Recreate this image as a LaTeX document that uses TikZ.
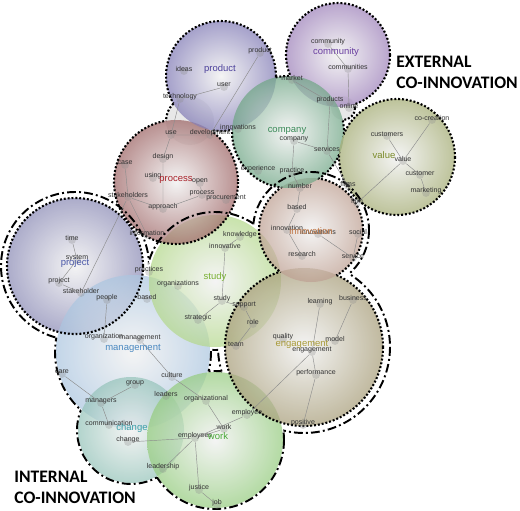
\documentclass[tikz,border=0pt]{standalone}
\usepackage{fontspec}
\setmainfont{Liberation Sans}
\newfontfamily\calib{Carlito}
\usepackage{xcolor}
\usepackage{tikz}
\usetikzlibrary{positioning}

\definecolor{prodfill}{RGB}{130,124,182}
\definecolor{commfill}{RGB}{158,130,186}
\definecolor{compfill}{RGB}{112,166,134}
\definecolor{valfill}{RGB}{164,172,116}
\definecolor{procfill}{RGB}{158,102,102}
\definecolor{innofill}{RGB}{190,160,146}
\definecolor{projfill}{RGB}{140,140,182}
\definecolor{studfill}{RGB}{180,216,140}
\definecolor{engfill}{RGB}{168,158,122}
\definecolor{mgtfill}{RGB}{172,198,224}
\definecolor{chgfill}{RGB}{150,196,186}
\definecolor{workfill}{RGB}{150,204,128}

% outline of a union of circles x/y/r
\newcommand{\hulloutline}[2]{%
  \foreach \ax/\ay/\ar in {#2}{%
    \begin{scope}[even odd rule]
      \foreach \bx/\by/\br in {#2}{%
        \pgfmathtruncatemacro\same{(\ax==\bx)&&(\ay==\by)&&(\ar==\br)}%
        \ifnum\same=0
          \clip (540,-20) rectangle (-20,530) (\bx,\by) circle (\br);
        \fi
      }
      \draw[#1] (\ax,\ay) circle (\ar);
    \end{scope}
  }%
}

\begin{document}
\begin{tikzpicture}[
      x=0.02cm, y=-0.02cm,
      clus/.style={
        inner color=black!6,
        fill opacity=0.72
      },
      kdot/.style={
        circle,
        fill=black!45,
        fill opacity=0.3,
        inner sep=0pt,
        minimum size=4.5pt
      },
      kw/.style={
        font=\fontsize{4}{4}\selectfont,
        text=black!80,
        text opacity=1,
        inner sep=0pt,
        yshift=1.2pt
      },
      lnk/.style={draw=black!45, line width=0.25pt},
      clab/.style={font=\fontsize{5.4}{5.4}\selectfont, inner sep=0pt},
      extline/.style={line width=1.2pt, dash pattern=on 1.1pt off 1.1pt},
      intline/.style={line width=1.1pt, dash pattern=on 5pt off 1.8pt on 1.1pt off 1.8pt},
      grp/.style={
        font=\calib\bfseries\fontsize{10}{11.8}\selectfont,
        align=left,
        anchor=west,
        inner sep=0pt
      }
      ]
        \useasboundingbox (0,0) rectangle (520,510);

        % grey bridges
        \fill[black!15, fill opacity=0.6] (190,121) circle (24);
        \fill[black!15, fill opacity=0.6] (343,108) circle (12);

        % clusters
        \shade[clus, outer color=projfill] (75,266) circle (68);
        \shade[clus, outer color=mgtfill] (133,352) circle (77);
        \shade[clus, outer color=chgfill] (131,430) circle (53);
        \shade[clus, outer color=workfill] (215,440) circle (68);
        \shade[clus, outer color=studfill] (215,281) circle (66);
        \shade[clus, outer color=engfill] (304,347) circle (79);
        \shade[clus, outer color=innofill] (311,230) circle (52);
        \shade[clus, outer color=procfill] (176,182) circle (62);
        \shade[clus, outer color=prodfill] (221,76) circle (55);
        \shade[clus, outer color=commfill] (338,55) circle (52);
        \shade[clus, outer color=compfill] (288,132) circle (56);
        \shade[clus, outer color=valfill] (397,157) circle (58);

        % group borders
        \hulloutline{extline}{221/76/55, 338/55/52, 288/132/56, 397/157/58, 176/182/62, 311/230/52, 304/347/79, 190/121/24, 343/108/12}
        \draw[extline] (75,266) circle (68);
        \hulloutline{intline}{75/266/74, 215/281/69, 311/230/58, 304/347/86, 133/352/78, 131/430/54, 215/440/69}

        % product
        \node[kdot, label={[kw]center:product}] (product) at (260,53) {};
        \node[kdot, label={[kw]center:ideas}] (ideas) at (184,71) {};
        \node[kdot, label={[kw]center:user}] (user) at (224,87) {};
        \node[kdot, label={[kw]center:technology}] (technology) at (180,99) {};
        % community
        \node[kdot, label={[kw]center:community}] (community) at (328,44) {};
        \node[kdot, label={[kw]center:communities}] (communities) at (348,69) {};
        \node[kdot, label={[kw]center:market}] (market) at (292,80) {};
        \node[kdot, label={[kw]center:products}] (products) at (330,102) {};
        \node[kdot, label={[kw]center:online}] (online) at (349,108) {};
        % company
        \node[kdot, label={[kw]center:innovations}] (innovations) at (238,129) {};
        \node[kdot, label={[kw]center:company}] (company) at (294,141) {};
        \node[kdot, label={[kw]center:services}] (services) at (327,151) {};
        \node[kdot, label={[kw]center:experience}] (experience) at (258,171) {};
        \node[kdot, label={[kw]center:practice}] (practice) at (292,173) {};
        % value
        \node[kdot, label={[kw]center:co-creation}] (cocreation) at (432,120) {};
        \node[kdot, label={[kw]center:customers}] (customers) at (387,136) {};
        \node[kdot, label={[kw]center:value}] (value) at (403,161) {};
        \node[kdot, label={[kw]center:customer}] (customer) at (420,175) {};
        \node[kdot, label={[kw]center:marketing}] (marketing) at (426,193) {};
        \node[kdot, label={[kw]center:firms}] (firms) at (348,186) {};
        \node[kdot, label={[kw]center:firm}] (firm) at (357,203) {};
        % process
        \node[kdot, label={[kw]center:use}] (use) at (171,135) {};
        \node[kdot, label={[kw]center:development}] (development) at (210,135) {};
        \node[kdot, label={[kw]center:design}] (design) at (163,159) {};
        \node[kdot, label={[kw]center:case}] (case) at (125,165) {};
        \node[kdot, label={[kw]center:using}] (using) at (153,178) {};
        \node[kdot, label={[kw]center:open}] (open) at (200,183) {};
        \node[kdot, label={[kw]center:process}] (process) at (202,195) {};
        \node[kdot, label={[kw]center:procurement}] (procurement) at (226,200) {};
        \node[kdot, label={[kw]center:stakeholders}] (stakeholders) at (128,197) {};
        \node[kdot, label={[kw]center:approach}] (approach) at (163,209) {};
        \node[kdot, label={[kw]center:information}] (information) at (147,235) {};
        % innovation
        \node[kdot, label={[kw]center:number}] (number) at (300,188) {};
        \node[kdot, label={[kw]center:based}] (based) at (297,209) {};
        \node[kdot, label={[kw]center:innovation}] (innovation) at (287,230) {};
        \node[kdot, label={[kw]center:innovations}] (innovations2) at (318,234) {};
        \node[kdot, label={[kw]center:social}] (social) at (358,234) {};
        \node[kdot, label={[kw]center:research}] (research) at (302,256) {};
        \node[kdot, label={[kw]center:service}] (service) at (353,258) {};
        % project
        \node[kdot, label={[kw]center:time}] (time) at (72,240) {};
        \node[kdot, label={[kw]center:system}] (system) at (77,260) {};
        \node[kdot, label={[kw]center:project}] (project) at (59,283) {};
        \node[kdot, label={[kw]center:stakeholder}] (stakeholder) at (81,293) {};
        \node[kdot, label={[kw]center:people}] (people) at (107,300) {};
        \node[kdot, label={[kw]center:practices}] (practices) at (149,272) {};
        \node[kdot, label={[kw]center:based}] (based2) at (147,299) {};
        % study
        \node[kdot, label={[kw]center:knowledge}] (knowledge) at (240,237) {};
        \node[kdot, label={[kw]center:innovative}] (innovative) at (225,248) {};
        \node[kdot, label={[kw]center:organizations}] (organizations) at (178,286) {};
        \node[kdot, label={[kw]center:study}] (study) at (222,301) {};
        \node[kdot, label={[kw]center:support}] (support) at (244,307) {};
        \node[kdot, label={[kw]center:strategic}] (strategic) at (198,320) {};
        \node[kdot, label={[kw]center:role}] (role) at (253,324) {};
        \node[kdot, label={[kw]center:team}] (team) at (236,346) {};
        % engagement
        \node[kdot, label={[kw]center:learning}] (learning) at (320,304) {};
        \node[kdot, label={[kw]center:business}] (business) at (353,300) {};
        \node[kdot, label={[kw]center:quality}] (quality) at (283,339) {};
        \node[kdot, label={[kw]center:model}] (model) at (335,341) {};
        \node[kdot, label={[kw]center:engagement}] (engagement) at (312,352) {};
        \node[kdot, label={[kw]center:performance}] (performance) at (316,375) {};
        \node[kdot, label={[kw]center:positive}] (positive) at (303,425) {};
        % management
        \node[kdot, label={[kw]center:organization}] (organization) at (104,339) {};
        \node[kdot, label={[kw]center:management}] (management) at (140,340) {};
        \node[kdot, label={[kw]center:care}] (care) at (62,374) {};
        \node[kdot, label={[kw]center:culture}] (culture) at (172,377) {};
        \node[kdot, label={[kw]center:group}] (group) at (135,385) {};
        \node[kdot, label={[kw]center:leaders}] (leaders) at (166,396) {};
        \node[kdot, label={[kw]center:organizational}] (organizational) at (206,401) {};
        \node[kdot, label={[kw]center:managers}] (managers) at (101,403) {};
        % change
        \node[kdot, label={[kw]center:communication}] (communication) at (109,425) {};
        \node[kdot, label={[kw]center:change}] (change) at (128,442) {};
        % work
        \node[kdot, label={[kw]center:employee}] (employee) at (247,415) {};
        \node[kdot, label={[kw]center:work}] (work) at (224,429) {};
        \node[kdot, label={[kw]center:employees}] (employees) at (195,438) {};
        \node[kdot, label={[kw]center:leadership}] (leadership) at (163,469) {};
        \node[kdot, label={[kw]center:justice}] (justice) at (199,490) {};
        \node[kdot, label={[kw]center:job}] (job) at (217,505) {};

        % links
        \draw[lnk] (product) -- (development) (technology) -- (user) (technology) -- (use);
        \draw[lnk] (community) -- (communities) (communities) -- (online) (market) -- (products);
        \draw[lnk] (products) -- (services) (company) -- (services) (company) -- (practice);
        \draw[lnk] (practice) -- (number) (services) -- (firms);
        \draw[lnk] (cocreation) -- (value) (value) -- (firm) (customers) -- (value);
        \draw[lnk] (value) -- (customer) (customer) -- (marketing);
        \draw[lnk] (use) -- (development) (use) -- (design) (design) -- (approach);
        \draw[lnk] (case) -- (stakeholders) (stakeholders) -- (approach) (approach) -- (process);
        \draw[lnk] (process) -- (procurement) (open) -- (process);
        \draw[lnk] (stakeholders) -- (information) (stakeholders) -- (stakeholder);
        \draw[lnk] (number) -- (based) (based) -- (innovation) (innovation) -- (research);
        \draw[lnk] (innovations2) -- (service) (social) -- (service);
        \draw[lnk] (time) -- (system) (system) -- (project) (project) -- (stakeholder);
        \draw[lnk] (people) -- (organization);
        \draw[lnk] (knowledge) -- (innovative) (innovative) -- (study) (study) -- (strategic);
        \draw[lnk] (study) -- (support) (support) -- (role) (role) -- (team);
        \draw[lnk] (learning) -- (engagement) (business) -- (model) (engagement) -- (performance);
        \draw[lnk] (performance) -- (positive) (engagement) -- (employee);
        \draw[lnk] (management) -- (culture) (culture) -- (organizational) (care) -- (managers);
        \draw[lnk] (group) -- (managers) (managers) -- (communication) (change) -- (employees);
        \draw[lnk] (organizational) -- (work) (work) -- (employees) (employees) -- (employee);
        \draw[lnk] (employees) -- (leadership) (employees) -- (justice) (justice) -- (job);

        % cluster names
        \node[clab, text={rgb,255:red,74;green,63;blue,154}] (c-product) at (220,69) {product};
        \node[clab, text={rgb,255:red,106;green,63;blue,160}] (c-community) at (336,52) {community};
        \node[clab, text={rgb,255:red,58;green,138;blue,88}] (c-company) at (287,131) {company};
        \node[clab, text={rgb,255:red,122;green,138;blue,40}] (c-value) at (384,155) {value};
        \node[clab, text={rgb,255:red,168;green,34;blue,42}] (c-process) at (176,180) {process};
        \node[clab, text={rgb,255:red,192;green,120;blue,72}] (c-innovation) at (311,231) {innovation};
        \node[clab, text={rgb,255:red,74;green,88;blue,168}] (c-project) at (75,263) {project};
        \node[clab, text={rgb,255:red,120;green,176;blue,48}] (c-study) at (215,277) {study};
        \node[clab, text={rgb,255:red,168;green,154;blue,56}] (c-engagement) at (302,344) {engagement};
        \node[clab, text={rgb,255:red,74;green,136;blue,192}] (c-management) at (133,348) {management};
        \node[clab, text={rgb,255:red,58;green,158;blue,168}] (c-change) at (132,428) {change};
        \node[clab, text={rgb,255:red,72;green,168;blue,56}] (c-work) at (218,436) {work};

        % groups
        \node[grp] (external) at (396,72) {EXTERNAL\\CO-INNOVATION};
        \node[grp] (internal) at (14,487) {INTERNAL\\CO-INNOVATION};
    \end{tikzpicture}
\end{document}
